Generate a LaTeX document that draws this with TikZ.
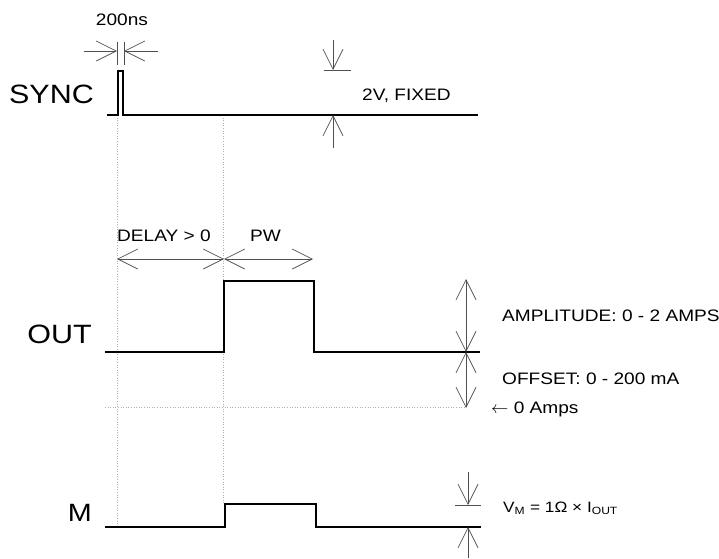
\documentclass[tikz,border=0pt]{standalone}
\usepackage{fontspec}
\setmainfont{Liberation Sans}
\newfontfamily\wideface[FakeStretch=1.15]{Liberation Sans}
\usetikzlibrary{arrows.meta}
\definecolor{dimGray}{RGB}{80,80,80}
\definecolor{guideGray}{RGB}{175,175,175}

\begin{document}
\begin{tikzpicture}[x=1pt,y=-1pt,
    wave/.style={line width=2.2pt},
    dim/.style={dimGray,line width=0.7pt},
    barb/.style={dim,-{Straight Barb[length=20pt,width=20pt,line width=0.7pt]}},
    twobarb/.style={dim,{Straight Barb[length=20pt,width=20pt,line width=0.7pt]}-{Straight Barb[length=20pt,width=20pt,line width=0.7pt]}},
    guide/.style={guideGray,dotted,line width=0.6pt},
    sig/.style={font=\wideface\fontsize{26.5}{30}\selectfont,anchor=east,inner sep=0pt},
    lbl/.style={font=\wideface\fontsize{16.6}{19}\selectfont,anchor=west,inner sep=0pt}]

    \useasboundingbox (0,0) rectangle (719,558);

    % guides
    \draw[guide] (117,115) -- (117,527);
    \draw[guide] (223,115) -- (223,504);
    \draw[guide] (105,407) -- (466,407);

    % SYNC
    \node[sig] (sync) at (94,94) {SYNC};
    \draw[wave] (107,115) -- (118,115) -- (118,71) -- (123,71) -- (123,115) -- (478,115);
    \coordinate (tl) at (117,42); \coordinate (tr) at (124,42);
    \draw[dim] (tl) -- (117,65);
    \draw[dim] (tr) -- (124,65);
    \draw[barb] (84,51) -- (117,51);
    \draw[barb] (158,51) -- (124,51);
    \node[lbl,anchor=center] (ns) at (122,20) {200ns};
    % 2V amplitude
    \coordinate (vtop) at (333,70);
    \coordinate (vbot) at (333,115);
    \draw[barb] (333,40) -- (vtop);
    \draw[dim] (324,70) -- (351,70);
    \draw[barb] (333,148) -- (vbot);
    \node[lbl] (fixed) at (362,96) {2V, FIXED};

    % OUT
    \node[sig] (out) at (92,334) {OUT};
    \draw[wave] (105,352) -- (224,352) -- (224,281) -- (314,281) -- (314,352) -- (480,352);
    \coordinate (d0) at (117,259);
    \coordinate (d1) at (224,259);
    \coordinate (d2) at (313,259);
    \draw[twobarb] (d0) -- (d1);
    \draw[twobarb] (d1) -- (d2);
    \node[lbl] (delay) at (117,236) {DELAY > 0};
    \node[lbl] (pw) at (250,236) {PW};
    \coordinate (a0) at (466,279);
    \coordinate (a1) at (466,352);
    \coordinate (a2) at (466,408);
    \draw[twobarb] (a0) -- (a1);
    \draw[twobarb] (a1) -- (a2);
    \node[lbl] (amp) at (502,316) {AMPLITUDE: 0 - 2 AMPS};
    \node[lbl] (off) at (502,379) {OFFSET: 0 - 200 mA};
    \node[lbl] (zero) at (491,409) {$\leftarrow$ 0 Amps};

    % M
    \node[sig,font=\wideface\fontsize{25}{28}\selectfont] (m) at (92,513) {M};
    \draw[wave] (105,527) -- (225,527) -- (225,504) -- (316,504) -- (316,527) -- (481,527);
    \coordinate (m0) at (468,505);
    \coordinate (m1) at (468,527);
    \draw[barb] (468,472) -- (m0);
    \draw[dim] (455,505) -- (481,505);
    \draw[barb] (468,558) -- (m1);
    \node[lbl,font=\wideface\fontsize{15}{17}\selectfont] (vm) at (503,508) {V\textsubscript{M} = 1Ω × I\textsubscript{OUT}};
\end{tikzpicture}
\end{document}
